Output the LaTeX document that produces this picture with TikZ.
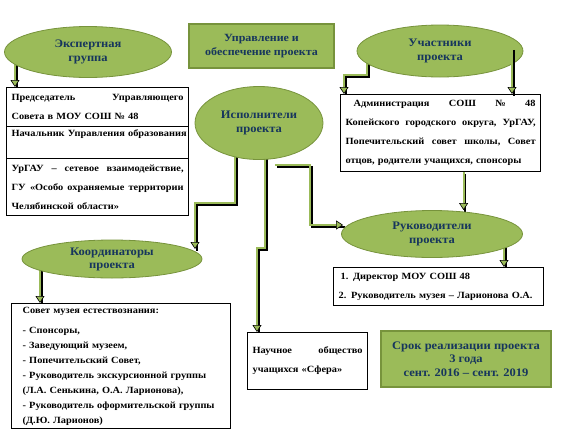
\documentclass[tikz,border=0pt]{standalone}
\usepackage{fontspec}
\setmainfont{Liberation Serif}[FakeStretch=1.09]
\usetikzlibrary{shapes,arrows.meta,calc,positioning}
\usetikzlibrary{backgrounds}
\definecolor{leaf}{HTML}{9BBB59}
\definecolor{leafdark}{HTML}{77933C}
\definecolor{ink}{HTML}{17365D}
\tikzstyle{oval} = [draw=leafdark, ellipse, fill=leaf, line width=0.8pt, inner sep=0pt, text=ink, align=center, font=\bfseries\fontsize{11.5}{14}\selectfont]
\tikzstyle{panel} = [draw=leafdark, rectangle, fill=leaf, line width=2pt, inner sep=0pt, text=ink, align=center, font=\bfseries\fontsize{11.5}{14}\selectfont]
\tikzstyle{box} = [draw, rectangle, fill=white, line width=1.2pt, anchor=north west, inner xsep=5pt, inner ysep=2pt, align=left, font=\bfseries\fontsize{9.5}{19}\selectfont]
\tikzstyle{line} = [draw=leaf, line width=2pt, -{Triangle[width=9pt,length=7pt,color=black,fill=leaf,line width=0.6pt]}, preaction={draw=black, line width=2pt, arrows=-, transform canvas={shift={(1.8pt,-1.8pt)}}}]

\begin{document}
\begin{tikzpicture}[x=1pt, y=-1pt]
	\useasboundingbox (0,0) rectangle (571,429);
	\node [oval, minimum width=167, minimum height=51] (expert) at (88,52) {Экспертная\\группа};
	\node [panel, minimum width=145, minimum height=44, font=\bfseries\fontsize{11}{14}\selectfont] (manage) at (261.5,46) {Управление и\\обеспечение проекта};
	\node [oval, minimum width=166, minimum height=52] (part) at (440,51) {Участники\\проекта};
	\node [oval, minimum width=128, minimum height=73] (exec) at (259,123) {Исполнители\\проекта};
	\node [oval, minimum width=181, minimum height=47] (lead) at (432,234) {Руководители\\проекта};
	\node [oval, minimum width=180, minimum height=38, font=\bfseries\fontsize{11.5}{13}\selectfont] (coord) at (112,259) {Координаторы\\проекта};

	\node [box, text width=172, minimum height=39] (exp1) at (6,87) {Председатель \hfill Управляющего\\Совета в МОУ СОШ № 48};
	\node [box, text width=172, minimum height=32] (exp2) at (6,126) {\makebox[\linewidth][s]{Начальник Управления образования}\\\mbox{}};
	\node [box, text width=172, minimum height=57] (exp3) at (6,158) {УрГАУ \hfill – \hfill сетевое \hfill взаимодействие,\\ГУ \hfill «Особо \hfill охраняемые \hfill территории\\Челябинской области»};
	\node [box, text width=190, minimum height=77] (partbox) at (340,94) {\hspace{8pt}Администрация \hfill СОШ \hfill № \hfill 48\\Копейского \hfill городского \hfill округа, \hfill УрГАУ,\\Попечительский \hfill совет \hfill школы, \hfill Совет\\отцов, родители учащихся, спонсоры};
	\node [box, text width=200, minimum height=38] (leadbox) at (333,267) {\hspace{2pt}1. Директор МОУ СОШ 48\\2. Руководитель музея – Ларионова О.А.};
	\node [box, text width=110, minimum height=57] (scibox) at (247,332) {Научное \hfill общество\\учащихся «Сфера»};
	\node [box, text width=197, inner xsep=11pt, minimum height=125, font=\bfseries\fontsize{9.5}{15}\selectfont] (coordbox) at (11,303) {Совет музея естествознания:\\[5pt]- Спонсоры,\\- Заведующий музеем,\\- Попечительский Совет,\\- Руководитель экскурсионной группы\\(Л.А. Сенькина, О.А. Ларионова),\\- Руководитель оформительской группы\\(Д.Ю. Ларионов)};
	\node [panel, minimum width=170, minimum height=56, font=\bfseries\fontsize{11.5}{13.5}\selectfont] (term) at (466,359) {Срок реализации проекта\\3 года\\сент. 2016 – сент. 2019};

	\coordinate (x1) at ($(expert.center)+(-73,0)$);
	\coordinate (p1) at ($(part.center)+(-73,0)$);
	\coordinate (p2) at (344,75);
	\coordinate (p3) at ($(part.center)+(72,-3)$);
	\coordinate (p4) at ($(partbox.south)+(23,0)$);
	\coordinate (l1) at ($(lead.center)+(72,0)$);
	\coordinate (e1) at ($(exec.center)+(-24,0)$);
	\coordinate (e2) at ($(exec.center)+(6,0)$);
	\coordinate (e3) at ($(exec.south)+(16,5)$);
	\coordinate (c1) at (195,203);
	\coordinate (c2) at (195,249);
	\coordinate (s1) at (257,248);
	\coordinate (lt) at ($(lead.west)+(2,-9)$);
	\coordinate (k1) at ($(coord.center)+(-72,0)$);

	\begin{scope}[on background layer]
	\path [line] (x1) -- (x1 |- exp1.north);
	\path [line] (p1) |- (p2) -- (p2 |- partbox.north);
	\path [line] (p4) -- (p4 |- lead.north);
	\path [line] (l1) -- (l1 |- leadbox.north);
	\path [line] (e1) |- (c1) -- (c2);
	\path [line] (e2) |- (s1) -- (s1 |- scibox.north);
	\path [line] (e3) -| ($(lt)+(-33,0)$) -- (lt);
	\path [line] (k1) -- (k1 |- coordbox.north);
	\end{scope}
	\path [line] (p3) -- (p3 |- partbox.north);
\end{tikzpicture}
\end{document}
